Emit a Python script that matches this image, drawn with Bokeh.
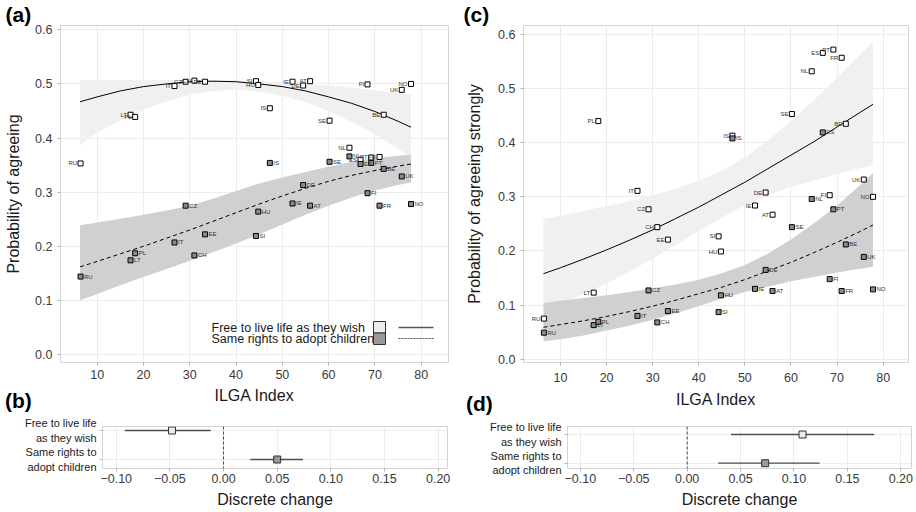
from bokeh.plotting import figure
from bokeh.layouts import column, row
from bokeh.models import Range1d, FixedTicker, Span, ColumnDataSource, Div
from bokeh.embed import file_html
from bokeh.resources import INLINE
from bokeh.core.properties import value

FONT = "Liberation Sans"

# ---------------- data ----------------
countries = ["RU", "LT", "PL", "IT", "CZ", "CH", "EE", "SI", "HU", "IS", "IE",
             "DE", "AT", "SE", "NL", "ES", "PT", "FI", "FR", "BE", "UK", "NO"]
ilga = [6.4, 17.2, 18.2, 26.7, 29.1, 31.0, 33.3, 44.3, 44.8, 47.3, 52.2,
        54.5, 56.0, 60.2, 64.5, 66.9, 69.2, 68.4, 71.0, 71.9, 75.8, 77.8]

# panel (a): probability of agreeing
a_free = [0.353, 0.443, 0.439, 0.496, 0.504, 0.506, 0.504, 0.505, 0.498, 0.455, 0.504,
          0.497, 0.505, 0.432, 0.382, 0.360, 0.364, 0.499, 0.365, 0.443, 0.489, 0.500]
a_same = [0.144, 0.174, 0.187, 0.207, 0.275, 0.183, 0.222, 0.219, 0.264, 0.354, 0.279,
          0.313, 0.275, 0.356, 0.366, 0.352, 0.354, 0.298, 0.275, 0.343, 0.329, 0.278]

# panel (c): probability of agreeing strongly
c_free = [0.075, 0.123, 0.440, 0.311, 0.277, 0.244, 0.221, 0.227, 0.199, 0.413, 0.284,
          0.308, 0.267, 0.453, 0.532, 0.566, 0.572, 0.303, 0.557, 0.435, 0.332, 0.300]
c_same = [0.049, 0.063, 0.069, 0.080, 0.127, 0.068, 0.089, 0.087, 0.118, 0.408, 0.130,
          0.165, 0.126, 0.244, 0.296, 0.419, 0.277, 0.148, 0.126, 0.212, 0.189, 0.129]

# fitted curves and confidence bands
fit_x = [6.3, 10, 15, 20, 25, 30, 35, 40, 45, 50, 55, 60, 65, 70, 75, 77.8]

a_free_fit = [0.467, 0.476, 0.487, 0.495, 0.500, 0.504, 0.505, 0.504, 0.500, 0.495, 0.487, 0.476, 0.464, 0.449, 0.431, 0.420]
a_free_lo = [0.387, 0.410, 0.433, 0.452, 0.468, 0.480, 0.487, 0.489, 0.486, 0.478, 0.466, 0.450, 0.430, 0.407, 0.380, 0.364]
a_free_hi = [0.507, 0.507, 0.507, 0.507, 0.507, 0.507, 0.507, 0.507, 0.505, 0.503, 0.500, 0.497, 0.493, 0.488, 0.483, 0.480]

a_same_fit = [0.162, 0.172, 0.186, 0.200, 0.215, 0.230, 0.246, 0.262, 0.278, 0.293, 0.307, 0.320, 0.331, 0.340, 0.348, 0.352]
a_same_lo = [0.100, 0.112, 0.128, 0.143, 0.158, 0.173, 0.189, 0.205, 0.222, 0.240, 0.258, 0.275, 0.290, 0.303, 0.313, 0.318]
a_same_hi = [0.239, 0.244, 0.251, 0.258, 0.266, 0.275, 0.288, 0.302, 0.316, 0.327, 0.337, 0.347, 0.356, 0.363, 0.367, 0.369]

c_free_fit = [0.158, 0.169, 0.185, 0.202, 0.220, 0.239, 0.260, 0.281, 0.304, 0.327, 0.352, 0.377, 0.402, 0.429, 0.456, 0.471]
c_free_lo = [0.092, 0.103, 0.120, 0.140, 0.162, 0.186, 0.211, 0.237, 0.262, 0.285, 0.303, 0.318, 0.330, 0.342, 0.353, 0.359]
c_free_hi = [0.259, 0.265, 0.274, 0.283, 0.292, 0.303, 0.315, 0.330, 0.348, 0.373, 0.404, 0.440, 0.479, 0.520, 0.563, 0.586]

c_same_fit = [0.059, 0.064, 0.071, 0.079, 0.088, 0.098, 0.109, 0.121, 0.133, 0.147, 0.163, 0.179, 0.197, 0.216, 0.236, 0.248]
c_same_lo = [0.033, 0.037, 0.044, 0.053, 0.062, 0.073, 0.085, 0.098, 0.112, 0.124, 0.134, 0.144, 0.152, 0.160, 0.167, 0.171]
c_same_hi = [0.104, 0.108, 0.113, 0.118, 0.124, 0.131, 0.138, 0.147, 0.159, 0.174, 0.195, 0.221, 0.251, 0.284, 0.322, 0.344]

# discrete change panels (b) and (d)
groups = ["Free to live life\nas they wish", "Same rights to\nadopt children"]
group_pos = [2, 1]
b_est = [-0.048, 0.050]
b_lo = [-0.092, 0.025]
b_hi = [-0.012, 0.074]
d_est = [0.108, 0.073]
d_lo = [0.041, 0.029]
d_hi = [0.175, 0.124]

legend_labels = ["Free to live life as they wish", "Same rights to adopt children"]

x_ticks = [10, 20, 30, 40, 50, 60, 70, 80]
y_ticks = [0.0, 0.1, 0.2, 0.3, 0.4, 0.5, 0.6]
y_tick_labels = ["0.0", "0.1", "0.2", "0.3", "0.4", "0.5", "0.6"]
dc_ticks = [-0.1, -0.05, 0.0, 0.05, 0.1, 0.15, 0.2]
dc_tick_labels = ["\u22120.10", "\u22120.05", "0.00", "0.05", "0.10", "0.15", "0.20"]

# ---------------- style ----------------
LIGHT_BAND = "#eff0ef"
DARK_BAND = "#cfd0cf"
LIGHT_KEY = "#ececec"
GREY_KEY = "#999999"
SAME_PT = "#8a8a8a"


def base_fig(w, h, bl, br, bt, bb, xr, yr):
    p = figure(width=w, height=h, x_range=Range1d(*xr), y_range=Range1d(*yr),
               output_backend="svg", toolbar_location=None,
               min_border_left=bl, min_border_right=br,
               min_border_top=bt, min_border_bottom=bb)
    p.outline_line_color = "#d4d4d4"
    p.outline_line_width = 1
    p.grid.grid_line_color = "#ececec"
    p.grid.grid_line_width = 1
    p.background_fill_color = "white"
    p.border_fill_color = "white"
    for ax in (p.xaxis[0], p.yaxis[0]):
        ax.axis_line_color = None
        ax.major_tick_line_color = "#b3b3b3"
        ax.major_tick_out = 3
        ax.major_tick_in = 0
        ax.minor_tick_line_color = None
        ax.major_label_text_font = FONT
        ax.major_label_text_font_size = "12.5px"
        ax.major_label_text_color = "#3a3a3a"
        ax.axis_label_text_font = FONT
        ax.axis_label_text_font_size = "16px"
        ax.axis_label_text_font_style = "normal"
        ax.axis_label_text_color = "#1a1a1a"
    return p


def set_letter_title(p, text, offset):
    p.title.text = text
    p.title.align = "left"
    p.title.offset = offset
    p.title.standoff = 0
    p.title.text_font = FONT
    p.title.text_font_size = "21px"
    p.title.text_font_style = "bold"
    p.title.text_color = "black"


def scatter_panel(w, h, bl, br, bt, bb, xr, yr, free, same,
                  ffit, flo, fhi, sfit, slo, shi, ylabel, ystd, lab_std, title_std):
    p = base_fig(w, h, bl, br, bt, bb, xr, yr)
    p.xaxis.ticker = FixedTicker(ticks=x_ticks)
    p.yaxis.ticker = FixedTicker(ticks=y_ticks)
    p.yaxis.major_label_overrides = dict(zip(y_ticks, y_tick_labels))
    p.xaxis.axis_label = "ILGA Index"
    p.yaxis.axis_label = ylabel
    p.xaxis.major_label_standoff = lab_std
    p.xaxis.axis_label_standoff = title_std
    p.yaxis.major_label_standoff = 5
    p.yaxis.axis_label_standoff = ystd

    p.varea(x=fit_x, y1=flo, y2=fhi, fill_color=LIGHT_BAND)
    p.varea(x=fit_x, y1=slo, y2=shi, fill_color=DARK_BAND)
    p.line(fit_x, ffit, line_color="black", line_width=1)
    p.line(fit_x, sfit, line_color="black", line_width=1, line_dash="4 3")

    src = ColumnDataSource(dict(x=ilga, free=free, same=same, name=countries))
    p.scatter("x", "free", source=src, marker="square", size=5,
              fill_color="white", line_color="black", line_width=1)
    p.scatter("x", "same", source=src, marker="square", size=5,
              fill_color=SAME_PT, line_color="black", line_width=1)
    p.text("x", "free", text="name", source=src, x_offset=-3.5,
           text_align="right", text_baseline="middle",
           text_font=value(FONT), text_font_size="6px", text_color="#333333")
    p.text("x", "same", text="name", source=src, x_offset=3.5,
           text_align="left", text_baseline="middle",
           text_font=value(FONT), text_font_size="6px", text_color="#333333")
    return p


def dc_panel(w, h, bl, br, bt, bb, xr, yr, est, lo, hi):
    p = base_fig(w, h, bl, br, bt, bb, xr, yr)
    p.xaxis.ticker = FixedTicker(ticks=dc_ticks)
    p.xaxis.major_label_overrides = dict(zip(dc_ticks, dc_tick_labels))
    p.yaxis.ticker = FixedTicker(ticks=group_pos)
    p.yaxis.major_label_overrides = dict(zip(group_pos, groups))
    p.yaxis.major_label_text_font_size = "11px"
    p.yaxis.major_label_text_color = "#1a1a1a"
    p.yaxis.major_label_standoff = 3
    p.xaxis.axis_label = "Discrete change"
    p.xaxis.major_label_standoff = 2
    p.xaxis.axis_label_standoff = 5
    p.add_layout(Span(location=0, dimension="height", line_dash="3 2",
                      line_color="#444444", line_width=1))
    p.segment(x0=lo, x1=hi, y0=group_pos, y1=group_pos,
              line_color="#4d4d4d", line_width=1.3)
    p.scatter(x=est, y=group_pos, marker="square", size=7,
              fill_color=[LIGHT_KEY, GREY_KEY], line_color="#333333", line_width=1)
    return p


def letter_div(text, left, top):
    return Div(text=text, width=36, height=24,
               styles={"position": "absolute", "left": f"{left}px", "top": f"{top}px",
                       "font-family": FONT, "font-weight": "bold", "font-size": "21px",
                       "line-height": "24px", "color": "black", "margin": "0",
                       "padding": "0", "z-index": "10"})


# ---------------- panels ----------------
TOP_H = 410
BOT_H = 100

XR_A = (2.07, 85.9)
YR_A = (-0.0148, 0.6079)
pa = scatter_panel(460, TOP_H, 60, 12, 25, 48, XR_A, YR_A, a_free, a_same,
                   a_free_fit, a_free_lo, a_free_hi, a_same_fit, a_same_lo, a_same_hi,
                   "Probability of agreeing", 10, 4, 5)
set_letter_title(pa, "(a)", -55)

XR_C = (1.97, 85.5)
YR_C = (-0.0061, 0.6166)
pc = scatter_panel(454, TOP_H, 63, 6, 25, 48, XR_C, YR_C, c_free, c_same,
                   c_free_fit, c_free_lo, c_free_hi, c_same_fit, c_same_lo, c_same_hi,
                   "Probability of agreeing strongly", 12, 7, 6)
set_letter_title(pc, "(c)", -60)

pb = dc_panel(460, BOT_H, 102, 13, 16, 42, (-0.1128, 0.2087), (0.69, 2.138), b_est, b_lo, b_hi)
pd = dc_panel(454, BOT_H, 107, 3, 16, 42, (-0.112, 0.210), (0.815, 2.279), d_est, d_lo, d_hi)

# legend inside panel (a): positions in frame pixels converted to data units
FW_A, FH_A = 388, 337


def fx(px):
    return XR_A[0] + px / FW_A * (XR_A[1] - XR_A[0])


def fy(py):
    return YR_A[1] - py / FH_A * (YR_A[1] - YR_A[0])


pa.text(x=[fx(151), fx(151)], y=[fy(302), fy(313)], text=legend_labels,
        text_align="left", text_baseline="middle", text_font=value(FONT),
        text_font_size="12.5px", text_color="#1a1a1a")
pa.quad(left=[fx(313), fx(313)], right=[fx(325), fx(325)],
        top=[fy(296), fy(307.5)], bottom=[fy(307.5), fy(319)],
        fill_color=[LIGHT_KEY, GREY_KEY], line_color="#333333", line_width=1)
pa.line(x=[fx(338), fx(373)], y=[fy(302), fy(302)], line_color="#555555", line_width=1.6)
pa.line(x=[fx(338), fx(373)], y=[fy(313), fy(313)], line_color="#555555", line_width=1.2,
        line_dash="2 1")

layout = column(row(pa, pc), row(pb, pd),
                letter_div("(b)", 5, 389), letter_div("(d)", 466, 392))

open("out.html", "w").write(file_html(layout, INLINE))
